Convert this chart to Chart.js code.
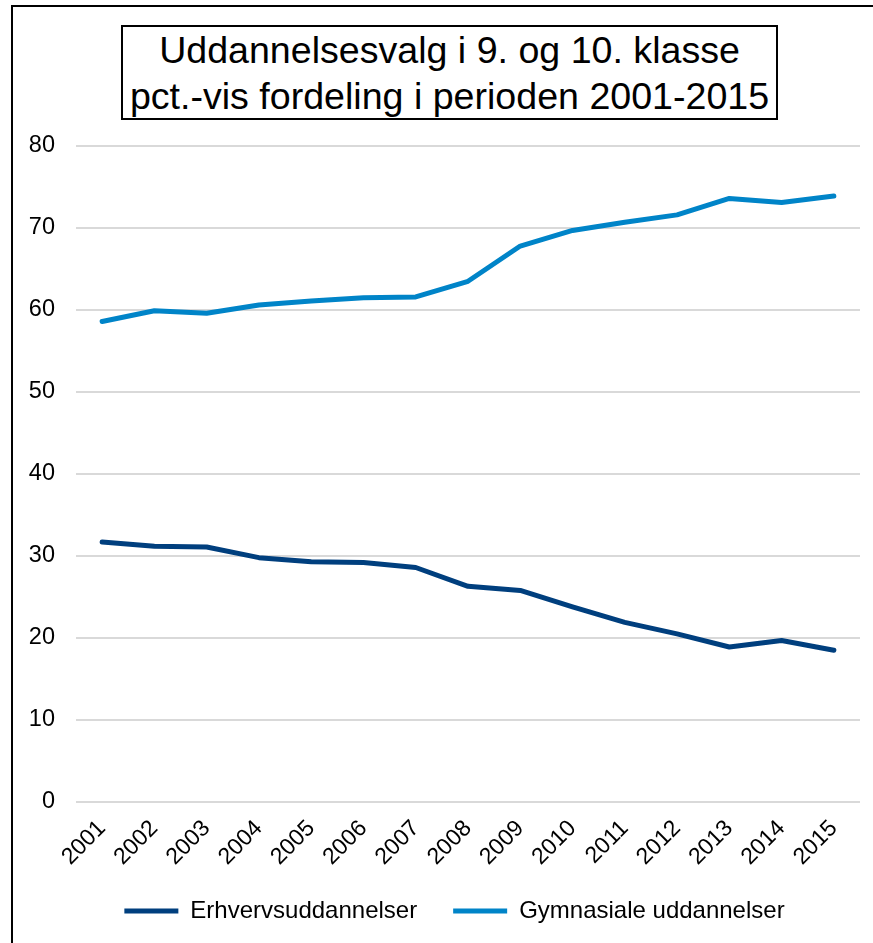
<!DOCTYPE html>
<html><head><meta charset="utf-8">
<script src="https://cdn.jsdelivr.net/npm/chart.js@4/dist/chart.umd.min.js"></script>
<style>
html,body{margin:0;padding:0;background:#fff;width:873px;height:943px;overflow:hidden}
canvas{position:absolute;left:0;top:0}
#frame{position:absolute;left:11px;top:5px;width:900px;height:980px;border-left:2px solid #000;border-top:2px solid #000;box-sizing:border-box;pointer-events:none}
#title{position:absolute;left:121px;top:25px;width:657px;height:95px;border:2px solid #000;box-sizing:border-box;font-family:"Liberation Sans",Arial,sans-serif;font-size:37.6px;line-height:46px;text-align:center;color:#000;display:flex;flex-direction:column;justify-content:center;background:#fff}
</style></head><body>
<canvas id="c" width="873" height="943"></canvas>
<div id="frame"></div>
<div id="title"><div>Uddannelsesvalg i 9. og 10. klasse</div><div>pct.-vis fordeling i perioden 2001-2015</div></div>
<script>
const years = ['2001','2002','2003','2004','2005','2006','2007','2008','2009','2010','2011','2012','2013','2014','2015'];
const erhverv = [31.7,31.2,31.1,29.8,29.3,29.2,28.6,26.3,25.8,23.8,21.9,20.5,18.9,19.7,18.5];
const gymnasiale = [58.6,59.9,59.6,60.6,61.1,61.5,61.6,63.5,67.8,69.7,70.7,71.6,73.6,73.1,73.9];
const yTicks = [0,10,20,30,40,50,60,70,80];
const seriesNames = ['Erhvervsuddannelser','Gymnasiale uddannelser'];

Chart.defaults.font.family = '"Liberation Sans", Arial, sans-serif';
Chart.defaults.color = '#000';

const LEGEND_PAD = 36;
const LEGEND_FONT = 24;
const PLOT_BOTTOM = 802;
const LEGEND_CENTER_Y = 911;

const legendShift = {
  id: 'legendShift',
  afterLayout(chart) {
    const lg = chart.legend;
    if (!lg) return;
    const dx = 18.5;
    const dy = LEGEND_CENTER_Y - (lg.top + LEGEND_PAD + LEGEND_FONT / 2);
    lg.left += dx; lg.right += dx;
    lg.top += dy; lg.bottom += dy;
  }
};

new Chart(document.getElementById('c'), {
  type: 'line',
  data: {
    labels: years,
    datasets: [
      {label: seriesNames[0], data: erhverv, borderColor: '#003F7E', backgroundColor: '#003F7E',
       borderWidth: 5, pointRadius: 0, tension: 0, borderCapStyle: 'round', borderJoinStyle: 'round'},
      {label: seriesNames[1], data: gymnasiale, borderColor: '#0084C8', backgroundColor: '#0084C8',
       borderWidth: 5, pointRadius: 0, tension: 0, borderCapStyle: 'round', borderJoinStyle: 'round'}
    ]
  },
  options: {
    responsive: false,
    animation: false,
    layout: {padding: {left: 12, right: 13, top: 146, bottom: 0}},
    plugins: {
      title: {display: false},
      tooltip: {enabled: false},
      legend: {
        position: 'bottom',
        labels: {usePointStyle: true, pointStyle: 'line', pointStyleWidth: 54, padding: LEGEND_PAD,
                 font: {size: LEGEND_FONT}, color: '#000'}
      }
    },
    scales: {
      x: {
        offset: true,
        grid: {display: false, drawTicks: false},
        border: {display: false},
        ticks: {font: {size: 23}, color: '#000', maxRotation: 45, minRotation: 45, padding: 13, autoSkip: false},
        afterFit(s) { s.height = 943 - s.chart.legend.height - PLOT_BOTTOM; }
      },
      y: {
        min: 0, max: 80,
        afterBuildTicks(s) { s.ticks = yTicks.map(v => ({value: v})); },
        grid: {color: '#D9D9D9', lineWidth: 2, drawTicks: false},
        border: {display: false},
        ticks: {font: {size: 23.5}, color: '#000', padding: 21},
        afterFit(s) { s.width = 64; }
      }
    }
  },
  plugins: [legendShift]
});
</script>
</body></html>
